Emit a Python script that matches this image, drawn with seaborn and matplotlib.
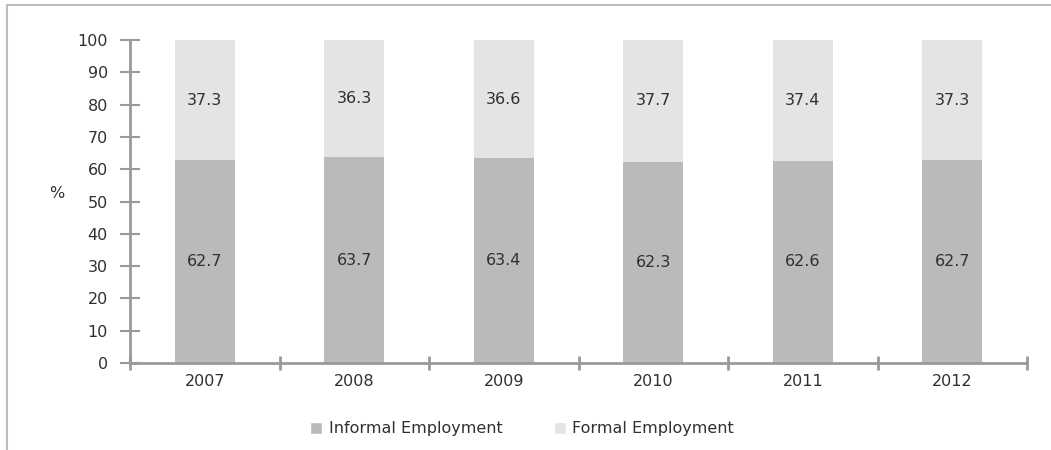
import matplotlib
matplotlib.use("Agg")
import matplotlib.pyplot as plt
from matplotlib.lines import Line2D
from matplotlib.patches import Patch
import numpy as np
import pandas as pd
import seaborn as sns

years = ["2007", "2008", "2009", "2010", "2011", "2012"]
informal = [62.7, 63.7, 63.4, 62.3, 62.6, 62.7]
formal = [37.3, 36.3, 36.6, 37.7, 37.4, 37.3]

informal_color = "#BABABA"
formal_color = "#E4E4E4"
axis_color = "#9A9A9A"
text_color = "#303030"
fs = 11.5

sns.set_style("white")
plt.rcParams["font.family"] = ["DejaVu Sans"]

df = pd.DataFrame({"year": years, "informal": informal, "formal": formal})
df["total"] = df["informal"] + df["formal"]

fig = plt.figure(figsize=(10.51, 4.5), dpi=100)
ax = fig.add_axes([130 / 1051, 87 / 450, 897 / 1051, 323 / 450])

# stacked bars: full total in the formal colour, informal share drawn over it
sns.barplot(data=df, x="year", y="total", color=formal_color, width=0.4,
            saturation=1, ax=ax, linewidth=0)
sns.barplot(data=df, x="year", y="informal", color=informal_color, width=0.4,
            saturation=1, ax=ax, linewidth=0)

for i, (inf, frm) in enumerate(zip(informal, formal)):
    ax.text(i, inf / 2, f"{inf:.1f}", ha="center", va="center",
            fontsize=fs, color=text_color)
    ax.text(i, inf + frm / 2, f"{frm:.1f}", ha="center", va="center",
            fontsize=fs, color=text_color)

ax.set_xlim(-0.5, len(years) - 0.5)
ax.set_ylim(0, 100)
ax.set_yticks(np.arange(0, 101, 10))
ax.set_xticks(np.arange(len(years)))
ax.set_xticklabels(years)
ax.set_xticks(np.arange(-0.5, len(years), 1), minor=True)
ax.set_xlabel("")
ax.set_ylabel("%", rotation=0, fontsize=fs, color=text_color, labelpad=0)
ax.yaxis.set_label_coords(-0.082, 0.5)

for side in ["top", "right"]:
    ax.spines[side].set_visible(False)
for side in ["left", "bottom"]:
    ax.spines[side].set_color(axis_color)
    ax.spines[side].set_linewidth(2)

ax.tick_params(axis="y", which="major", direction="inout", length=14, width=1.5,
               color=axis_color, labelsize=fs, labelcolor=text_color, pad=9, left=True)
ax.tick_params(axis="x", which="major", length=0, labelsize=fs,
               labelcolor=text_color, pad=8)
ax.tick_params(axis="x", which="minor", direction="inout", length=10, width=2,
               color=axis_color, bottom=True)

handles = [Patch(facecolor=informal_color, label="Informal Employment"),
           Patch(facecolor=formal_color, label="Formal Employment")]
fig.legend(handles=handles, loc="center", bbox_to_anchor=(522 / 1051, 1 - 429 / 450),
           ncol=2, frameon=False, fontsize=fs, handlelength=0.75, handleheight=0.75,
           columnspacing=3.2, handletextpad=0.4, labelcolor=text_color)

# outer frame
frame_kw = dict(color="#BDBDBD", linewidth=1.5, transform=fig.transFigure)
fig.add_artist(Line2D([7 / 1051, 7 / 1051], [0, 1 - 5 / 450], **frame_kw))
fig.add_artist(Line2D([7 / 1051, 1], [1 - 5 / 450, 1 - 5 / 450], **frame_kw))

fig.savefig("out.png", dpi=100)
